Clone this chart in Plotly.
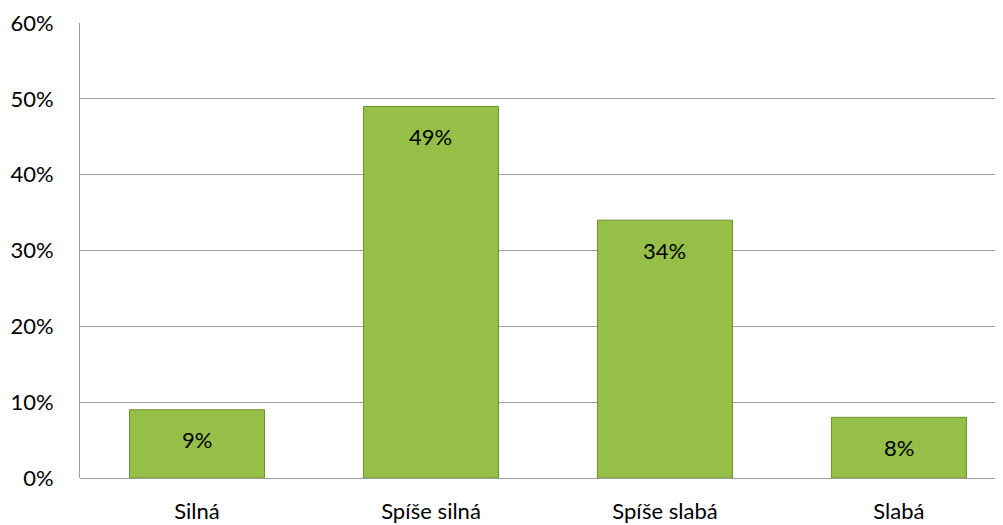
import plotly.graph_objects as go

categories = ["Silná", "Spíše silná", "Spíše slabá", "Slabá"]
values = [9, 49, 34, 8]
labels = ["9%", "49%", "34%", "8%"]
tick_vals = [0, 10, 20, 30, 40, 50, 60]
tick_text = ["0%", "10%", "20%", "30%", "40%", "50%", "60%"]

FONT = "Lato, Liberation Sans, Arial, sans-serif"

fig = go.Figure()
fig.add_trace(go.Bar(
    x=categories, y=values,
    marker=dict(color="#95BF47", line=dict(color="#6E8F2E", width=1)),
    hoverinfo="skip",
))

for c, v, t in zip(categories, values, labels):
    fig.add_annotation(x=c, y=v, text=t, showarrow=False, yanchor="middle",
                       yshift=-30, font=dict(family=FONT, size=22, color="#000000"))

fig.update_layout(
    width=992, height=515,
    margin=dict(l=72, r=0, t=15, b=45),
    paper_bgcolor="white", plot_bgcolor="white",
    bargap=0.423, showlegend=False,
    xaxis=dict(showgrid=False, showline=False, ticks="", ticklabelstandoff=18,
               range=[-0.5, 3.432],
               tickfont=dict(family=FONT, size=22, color="#000000")),
    yaxis=dict(range=[0, 60], tickvals=tick_vals, ticktext=tick_text,
               showgrid=True, gridcolor="#9E9E9E", gridwidth=1,
               showline=True, linecolor="#9E9E9E", linewidth=1,
               zeroline=True, zerolinecolor="#9E9E9E", zerolinewidth=1,
               ticks="", ticklabelstandoff=21,
               tickfont=dict(family=FONT, size=22, color="#000000")),
)

fig.write_html("out.html")
